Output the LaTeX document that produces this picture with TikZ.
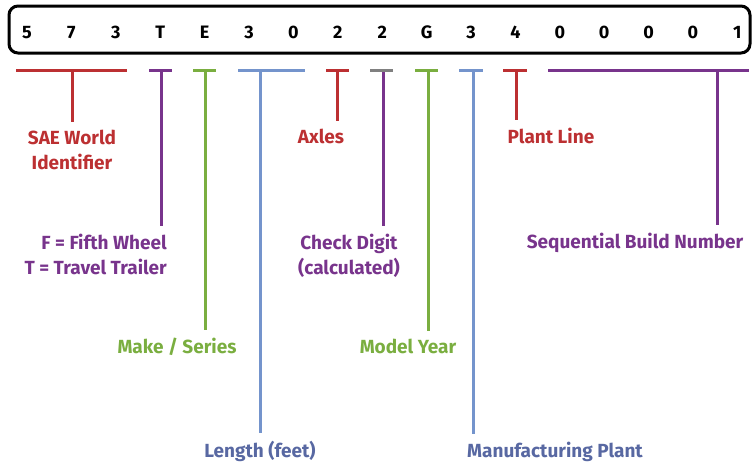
\documentclass[tikz,border=0pt]{standalone}
\usepackage{fontspec}
\setmainfont{Fira Sans}
\definecolor{vinred}{RGB}{188,48,50}
\definecolor{vinpurple}{RGB}{120,52,140}
\definecolor{vingreen}{RGB}{122,174,64}
\definecolor{vinblue}{RGB}{116,148,204}
\definecolor{vingray}{RGB}{128,128,128}
\definecolor{txtblue}{RGB}{88,104,162}
\tikzset{
  digit/.style={font=\bfseries\fontsize{18}{18}\selectfont, inner sep=0pt, anchor=base},
  bar/.style={line width=3pt},
  lbl/.style={font=\bfseries\fontsize{19}{25}\selectfont, inner xsep=0pt, inner ysep=7.5pt, anchor=base, align=center},
}

\begin{document}
\begin{tikzpicture}[x=1pt,y=-1pt]
            \useasboundingbox (0,0) rectangle (753,463);
            \draw[line width=3pt, rounded corners=9pt] (9,6) rectangle (750,53);
            \foreach \c [count=\i from 0] in {5,7,3,T,E,3,0,2,2,G,3,4,0,0,0,0,1}
                \node[digit] (d\i) at (27+44.4*\i,38) {\c};
            % labels (two-line ones sit on the last baseline)
            \node[lbl, text=vinred] (sae) at (72,169) {SAE World\\Identifier};
            \node[lbl, text=vinpurple, align=right, anchor=base east] (trailer) at (167,274) {F = Fifth Wheel\\T = Travel Trailer};
            \node[lbl, text=vingreen] (make) at (177,353) {Make / Series};
            \node[lbl, text=txtblue] (length) at (260,457) {Length (feet)};
            \node[lbl, text=vinred] (axles) at (321,143) {Axles};
            \node[lbl, text=vinpurple] (check) at (349,274) {Check Digit\\(calculated)};
            \node[lbl, text=vingreen] (year) at (408,353) {Model Year};
            \node[lbl, text=txtblue] (mfg) at (555,457) {Manufacturing Plant};
            \node[lbl, text=vinred] (line) at (551,143) {Plant Line};
            \node[lbl, text=vinpurple] (seq) at (635,248) {Sequential Build Number};
            % bars
            \coordinate (sae-l) at (16,70);  \coordinate (sae-r) at (127,70);  \coordinate (sae-t) at (72,70);
            \coordinate (trl-l) at (149,70); \coordinate (trl-r) at (172,70);  \coordinate (trl-t) at (161,70);
            \coordinate (mk-l) at (193,70);  \coordinate (mk-r) at (216,70);   \coordinate (mk-t) at (205,70);
            \coordinate (len-l) at (238,70); \coordinate (len-r) at (305,70);  \coordinate (len-t) at (260,70);
            \coordinate (ax-l) at (326,70);  \coordinate (ax-r) at (349,70);   \coordinate (ax-t) at (337,70);
            \coordinate (chk-l) at (370,70); \coordinate (chk-r) at (393,70);  \coordinate (chk-t) at (383,70);
            \coordinate (yr-l) at (415,70);  \coordinate (yr-r) at (438,70);   \coordinate (yr-t) at (428,70);
            \coordinate (mfg-l) at (459,70); \coordinate (mfg-r) at (483,70);  \coordinate (mfg-t) at (473,70);
            \coordinate (pl-l) at (503,70);  \coordinate (pl-r) at (527,70);   \coordinate (pl-t) at (516,70);
            \coordinate (seq-l) at (548,70); \coordinate (seq-r) at (749,70);  \coordinate (seq-t) at (717,70);
            \draw[bar, vinred] (sae-l) -- (sae-r);
            \draw[bar, vinred] (sae-t) -- (sae-t |- sae.north);
            \draw[bar, vinpurple] (trl-l) -- (trl-r);
            \draw[bar, vinpurple] (trl-t) -- (trl-t |- trailer.north);
            \draw[bar, vingreen] (mk-l) -- (mk-r);
            \draw[bar, vingreen] (mk-t) -- (mk-t |- make.north);
            \draw[bar, vinblue] (len-l) -- (len-r);
            \draw[bar, vinblue] (len-t) -- (len-t |- length.north);
            \draw[bar, vinred] (ax-l) -- (ax-r);
            \draw[bar, vinred] (ax-t) -- (ax-t |- axles.north);
            \draw[bar, vinpurple] (chk-t) -- (chk-t |- check.north);
            \draw[bar, vingray] (chk-l) -- (chk-r);
            \draw[bar, vingreen] (yr-l) -- (yr-r);
            \draw[bar, vingreen] (yr-t) -- (yr-t |- year.north);
            \draw[bar, vinblue] (mfg-l) -- (mfg-r);
            \draw[bar, vinblue] (mfg-t) -- (mfg-t |- mfg.north);
            \draw[bar, vinred] (pl-l) -- (pl-r);
            \draw[bar, vinred] (pl-t) -- (pl-t |- line.north);
            \draw[bar, vinpurple] (seq-l) -- (seq-r);
            \draw[bar, vinpurple] (seq-t) -- (seq-t |- seq.north);
        \end{tikzpicture}
\end{document}
